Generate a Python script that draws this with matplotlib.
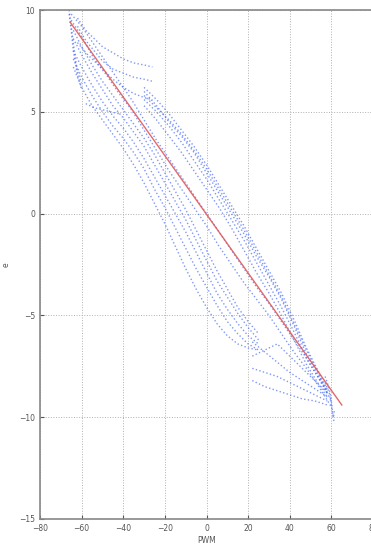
import numpy as np
import matplotlib
matplotlib.use("Agg")
import matplotlib.pyplot as plt

# traces (PWM, e)
upper_x = [-30, -24, -18, -12, -6, 0, 6, 12, 18, 24, 30, 36, 42, 48, 54, 58]
upper_a = [6.2, 5.6, 4.9, 4.1, 3.3, 2.4, 1.4, 0.4, -0.6, -1.7, -2.8, -3.9, -5.2, -6.6, -7.8, -8.6]
upper_b = [5.6, 5.0, 4.3, 3.5, 2.6, 1.7, 0.7, -0.3, -1.3, -2.4, -3.5, -4.6, -5.8, -7.1, -8.1, -8.8]
upper_c = [6.0, 5.3, 4.5, 3.8, 3.0, 2.0, 1.0, 0.0, -1.0, -2.1, -3.1, -4.2, -5.5, -6.9, -8.0, -8.7]
upper_d = [5.3, 4.6, 3.8, 3.0, 2.1, 1.2, 0.3, -0.7, -1.8, -2.9, -3.9, -5.0, -6.2, -7.4, -8.4, -9.0]
upper_e = [5.8, 5.2, 4.6, 3.9, 3.1, 2.2, 1.2, 0.2, -0.8, -1.9, -3.0, -4.1, -5.4, -6.7, -7.9, -8.8]

lower_x = [-64, -60, -55, -50, -45, -40, -35, -30, -25, -20, -15, -10, -5, 0, 5, 10, 15, 20, 25]
lower_a = [8.6, 7.8, 6.9, 6.1, 5.3, 4.7, 4.0, 3.3, 2.4, 1.5, 0.6, -0.3, -1.3, -2.3, -3.3, -4.1, -4.9, -5.6, -6.2]
lower_b = [8.0, 7.2, 6.3, 5.5, 4.8, 4.2, 3.5, 2.7, 1.8, 0.9, 0.0, -0.9, -1.9, -2.9, -3.9, -4.7, -5.4, -6.0, -6.4]
lower_c = [7.6, 6.7, 5.8, 5.0, 4.3, 3.7, 3.0, 2.2, 1.2, 0.3, -0.7, -1.7, -2.7, -3.6, -4.5, -5.3, -5.9, -6.4, -6.7]
lower_d = [9.0, 8.2, 7.3, 6.5, 5.8, 5.1, 4.4, 3.7, 2.9, 2.0, 1.1, 0.2, -0.8, -1.8, -2.8, -3.7, -4.6, -5.3, -5.9]
lower_e = [7.2, 6.2, 5.3, 4.6, 3.9, 3.2, 2.4, 1.5, 0.5, -0.5, -1.6, -2.7, -3.7, -4.6, -5.4, -6.0, -6.4, -6.6, -6.7]

mid_x = [-65, -60, -54, -48, -42, -36, -30, -24, -18, -12, -6, 0, 6, 12, 18, 24, 30, 36, 42, 48, 54, 60]
mid_a = [9.8, 9.2, 8.3, 7.4, 6.5, 5.6, 4.6, 3.6, 2.7, 1.8, 0.9, 0.0, -0.9, -1.8, -2.7, -3.6, -4.4, -5.3, -6.2, -7.1, -8.1, -9.2]
mid_b = [9.5, 8.7, 7.6, 6.8, 5.9, 5.1, 4.1, 3.1, 2.1, 1.2, 0.3, -0.6, -1.6, -2.5, -3.4, -4.2, -5.0, -5.9, -6.8, -7.6, -8.5, -9.5]

top_x = [-62, -58, -54, -50, -45, -40, -35, -30, -26]
top_a = [9.6, 9.0, 8.6, 8.2, 7.9, 7.6, 7.4, 7.3, 7.2]
top_b = [9.2, 8.5, 8.0, 7.5, 7.1, 6.9, 6.7, 6.6, 6.5]
top_c = [8.4, 7.9, 7.5, 7.1, 6.6, 6.2, 5.9, 5.7, 5.6]

left_x = [-66, -65, -64, -63, -62, -60]
left_a = [10.0, 9.2, 8.4, 7.6, 7.0, 6.4]
left_b = [9.8, 9.0, 8.0, 7.4, 6.8, 6.1]

tail_x = [-58, -54, -50, -46, -42]
tail_a = [5.4, 5.2, 5.1, 5.0, 4.9]

right_x = [22, 28, 34, 40, 46, 52, 58]
right_a = [-7.0, -6.7, -6.4, -7.0, -7.6, -8.2, -8.8]
right_b = [-7.6, -7.8, -8.0, -8.3, -8.6, -8.9, -9.2]
right_c = [-8.2, -8.5, -8.7, -8.9, -9.1, -9.2, -9.4]
right_d = [-6.3, -6.8, -7.3, -7.8, -8.2, -8.6, -9.0]

end_x = [57, 59, 60, 60.5, 61, 61.5]
end_a = [-8.0, -8.6, -9.2, -9.7, -10.1, -10.3]
end_b = [-8.3, -8.8, -9.4, -9.8, -10.0, -9.6]

fit_x = [-65.5, 65]
fit_y = [9.4, -9.4]

fig = plt.figure(figsize=(3.71, 5.45), dpi=100)
ax = fig.add_axes([40 / 371, 26 / 545, 333 / 371, 509 / 545])

blue = dict(color="#4a6cf5", linestyle=":", linewidth=1.0, alpha=0.7)
for ys in [upper_a, upper_b, upper_c, upper_d, upper_e]:
    ax.plot(upper_x, ys, **blue)
for ys in [lower_a, lower_b, lower_c, lower_d, lower_e]:
    ax.plot(lower_x, ys, **blue)
for ys in [mid_a, mid_b]:
    ax.plot(mid_x, ys, **blue)
for ys in [top_a, top_b, top_c]:
    ax.plot(top_x, ys, **blue)
for ys in [left_a, left_b]:
    ax.plot(left_x, ys, **blue)
ax.plot(tail_x, tail_a, **blue)
for ys in [right_a, right_b, right_c, right_d]:
    ax.plot(right_x, ys, **blue)
for ys in [end_a, end_b]:
    ax.plot(end_x, ys, **blue)

ax.plot(fit_x, fit_y, color="#e05a5a", linewidth=1.0, alpha=0.9)

ax.set_xlim(-80, 80)
ax.set_ylim(-15, 10)
ax.set_xticks(np.arange(-80, 81, 20))
ax.set_yticks(np.arange(-15, 11, 5))
ax.grid(True, linestyle=":", color="#b0b0b0", linewidth=0.7)
ax.tick_params(direction="in", labelsize=5.5, colors="#555555", length=3)
for s in ax.spines.values():
    s.set_color("#888888")
    s.set_linewidth(1.2)
ax.set_xlabel("PWM", fontsize=5.5, color="#555555", labelpad=2)
ax.set_ylabel("e", fontsize=5.5, color="#555555", labelpad=6)

fig.savefig("out.png", dpi=100)
